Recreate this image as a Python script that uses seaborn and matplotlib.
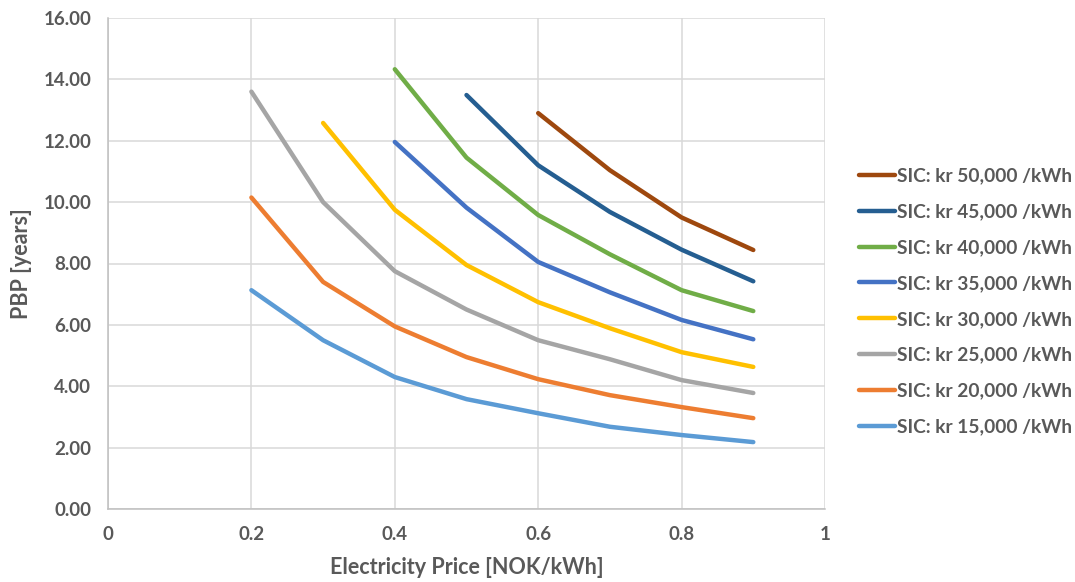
import matplotlib
matplotlib.use("Agg")
import matplotlib.pyplot as plt
import seaborn as sns
import numpy as np
import pandas as pd

# ---- data ----
price = [0.2, 0.3, 0.4, 0.5, 0.6, 0.7, 0.8, 0.9]
sic_15k = [7.13, 5.50, 4.30, 3.58, 3.12, 2.68, 2.41, 2.18]
sic_20k = [10.15, 7.40, 5.95, 4.95, 4.23, 3.71, 3.32, 2.96]
sic_25k = [13.60, 10.00, 7.75, 6.50, 5.50, 4.88, 4.20, 3.78]
sic_30k = [None, 12.58, 9.75, 7.95, 6.74, 5.89, 5.11, 4.63]
sic_35k = [None, None, 11.96, 9.82, 8.05, 7.06, 6.16, 5.53]
sic_40k = [None, None, 14.33, 11.45, 9.58, 8.30, 7.13, 6.45]
sic_45k = [None, None, None, 13.49, 11.20, 9.68, 8.45, 7.42]
sic_50k = [None, None, None, None, 12.90, 11.04, 9.50, 8.44]

series_labels = [
    "SIC: kr 15,000 /kWh", "SIC: kr 20,000 /kWh", "SIC: kr 25,000 /kWh",
    "SIC: kr 30,000 /kWh", "SIC: kr 35,000 /kWh", "SIC: kr 40,000 /kWh",
    "SIC: kr 45,000 /kWh", "SIC: kr 50,000 /kWh",
]
series_values = [sic_15k, sic_20k, sic_25k, sic_30k, sic_35k, sic_40k, sic_45k, sic_50k]
series_colors = ["#5B9BD5", "#ED7D31", "#A5A5A5", "#FFC000",
                 "#4472C4", "#70AD47", "#255E91", "#9E480E"]

x_ticks = [0, 0.2, 0.4, 0.6, 0.8, 1.0]
x_tick_labels = ["0", "0.2", "0.4", "0.6", "0.8", "1"]
y_ticks = [0, 2, 4, 6, 8, 10, 12, 14, 16]

rows = []
for lab, vals in zip(series_labels, series_values):
    for p, v in zip(price, vals):
        if v is not None:
            rows.append({"price": p, "pbp": v, "series": lab})
df = pd.DataFrame(rows)

# ---- style ----
sns.set_style("white")
plt.rcParams["font.family"] = ["Lato", "DejaVu Sans"]
text_color = "#595959"
grid_color = "#D9D9D9"

fig = plt.figure(figsize=(10.75, 5.82), dpi=100)
ax = fig.add_axes([108 / 1075, 1 - 509 / 582, (825 - 108) / 1075, (509 - 18) / 582])

sns.lineplot(data=df, x="price", y="pbp", hue="series", hue_order=series_labels,
             palette=series_colors, linewidth=3.2, ax=ax, legend=False,
             solid_capstyle="round", solid_joinstyle="round", sort=True)

ax.set_xlim(0, 1)
ax.set_ylim(0, 16)
ax.set_xticks(x_ticks)
ax.set_xticklabels(x_tick_labels)
ax.set_yticks(y_ticks)
ax.set_yticklabels([f"{t:.2f}" for t in y_ticks])

ax.grid(True, color=grid_color, linewidth=1.1)
ax.set_axisbelow(True)
for s in ["top", "right"]:
    ax.spines[s].set_visible(False)
for s in ["left", "bottom"]:
    ax.spines[s].set_color("#BFBFBF")
    ax.spines[s].set_linewidth(1.1)

ax.tick_params(axis="both", length=0, labelsize=13.5, labelcolor=text_color)
ax.tick_params(axis="y", pad=12)
ax.tick_params(axis="x", pad=12)
for lbl in ax.get_xticklabels() + ax.get_yticklabels():
    lbl.set_fontweight("bold")

ax.set_xlabel("Electricity Price [NOK/kWh]", fontsize=15.5, fontweight="bold",
              color=text_color, labelpad=10)
ax.set_ylabel("PBP [years]", fontsize=15.5, fontweight="bold",
              color=text_color, labelpad=8)

# legend: reversed order (50k on top)
handles = [plt.Line2D([0], [0], color=c, linewidth=3.2, solid_capstyle="round")
           for c in series_colors]
leg = fig.legend(handles[::-1], series_labels[::-1], loc="center left",
                 bbox_to_anchor=(0.792, 0.482), frameon=False,
                 prop={"size": 13.8, "weight": "bold"}, labelspacing=0.98,
                 handlelength=1.85, handletextpad=0.12, borderaxespad=0)
for t in leg.get_texts():
    t.set_color(text_color)

fig.savefig("out.png", dpi=100)
